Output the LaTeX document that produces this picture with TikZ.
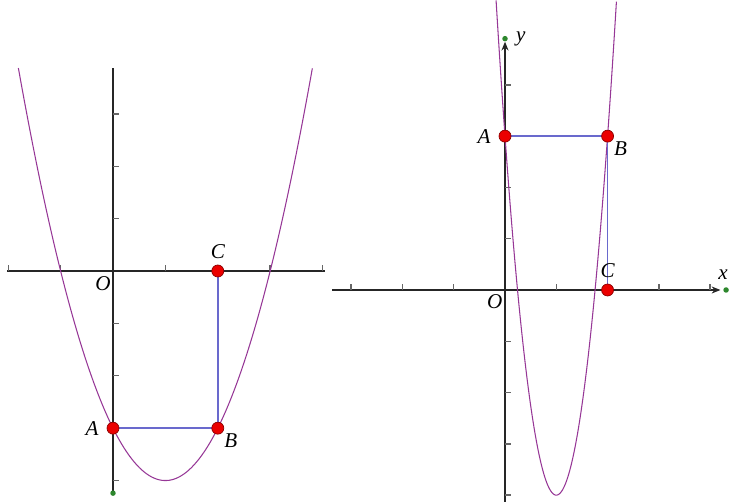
\documentclass[tikz,border=0pt]{standalone}
\usepackage{fontspec}
\setmainfont{Liberation Serif}
\usetikzlibrary{arrows.meta,positioning}
\definecolor{curvec}{RGB}{150,55,150}
\definecolor{segc}{RGB}{105,105,205}
\definecolor{ptred}{RGB}{235,0,0}
\definecolor{dotgreen}{RGB}{45,135,45}

\begin{document}
\begin{tikzpicture}[x=0.02cm,y=-0.02cm,
  axis/.style={line width=0.6pt,black!85},
  tickmark/.style={line width=0.8pt,black!60},
  parab/.style={line width=0.6pt,curvec},
  side/.style={line width=1pt,segc},
  pt/.style={circle,fill=ptred,draw=red!55!black,line width=0.4pt,inner sep=0pt,minimum size=0.24cm},
  gdot/.style={circle,fill=dotgreen,inner sep=0pt,minimum size=0.11cm},
  lab/.style={font=\fontsize{12}{14}\selectfont\itshape,inner sep=1pt}]
  \useasboundingbox (0,0) rectangle (731,502);

  % left: y = x^2 - 2x - 3
  \begin{scope}[shift={(113,271)},x=1.048cm,y=1.048cm]
    \draw[axis] (-2.02,0) -- (4.05,0);
    \draw[axis] (0,3.87) -- (0,-4.22);
    \foreach \x in {-2,-1,1,2,3,4}{\draw[tickmark] (\x,0) -- (\x,0.115);}
    \foreach \y in {-4,-3,-2,-1,1,2,3}{\draw[tickmark] (0,\y) -- (0.115,\y);}
    \node[gdot] (g1) at (0,-4.24) {};
    \draw[parab] plot[domain=-1.806:3.806,samples=120,smooth] (\x,{\x*\x-2*\x-3});
    \coordinate (a1) at (0,-3);
    \coordinate (b1) at (2,-3);
    \coordinate (c1) at (2,0);
    \draw[side] (a1) -- (b1) -- (c1);
    \node[pt] (A1) at (a1) {};
    \node[pt] (B1) at (b1) {};
    \node[pt] (C1) at (c1) {};
    \node[lab,left=0.12cm of A1] {A};
    \node[lab,below right=-0.02cm and 0cm of B1] {B};
    \node[lab,above=0.08cm of C1] {C};
    \node[lab] (O1) at (-0.19,-0.25) {O};
  \end{scope}

  % right: y = 7x^2 - 14x + 3
  \begin{scope}[shift={(505,290)},x=1.026cm,y=1.026cm]
    \draw[axis,-{Stealth[length=5pt,width=4pt]}] (-3.37,0) -- (4.2,0);
    \draw[axis,-{Stealth[length=5pt,width=4pt]}] (0,-4.14) -- (0,4.84);
    \foreach \x in {-3,-2,-1,1,2,3,4}{\draw[tickmark] (\x,0) -- (\x,0.115);}
    \foreach \y in {-4,-3,-2,-1,1,2,3,4}{\draw[tickmark] (0,\y) -- (0.115,\y);}
    \node[gdot] (gx) at (4.31,0) {};
    \node[gdot] (gy) at (0,4.9) {};
    \draw[parab] plot[domain=-0.174:2.174,samples=150,smooth] (\x,{7*\x*\x-14*\x+3});
    \coordinate (a2) at (0,3);
    \coordinate (b2) at (2,3);
    \coordinate (c2) at (2,0);
    \draw[side] (a2) -- (b2) -- (c2);
    \node[pt] (A2) at (a2) {};
    \node[pt] (B2) at (b2) {};
    \node[pt] (C2) at (c2) {};
    \node[lab,left=0.12cm of A2] {A};
    \node[lab,below right=-0.02cm and 0cm of B2] {B};
    \node[lab,above=0.08cm of C2] {C};
    \node[lab] (O2) at (-0.2,-0.23) {O};
    \node[lab,right=0.12cm of gy] {y};
    \node[lab,above=0.1cm of gx,xshift=-0.06cm] {x};
  \end{scope}
\end{tikzpicture}
\end{document}
